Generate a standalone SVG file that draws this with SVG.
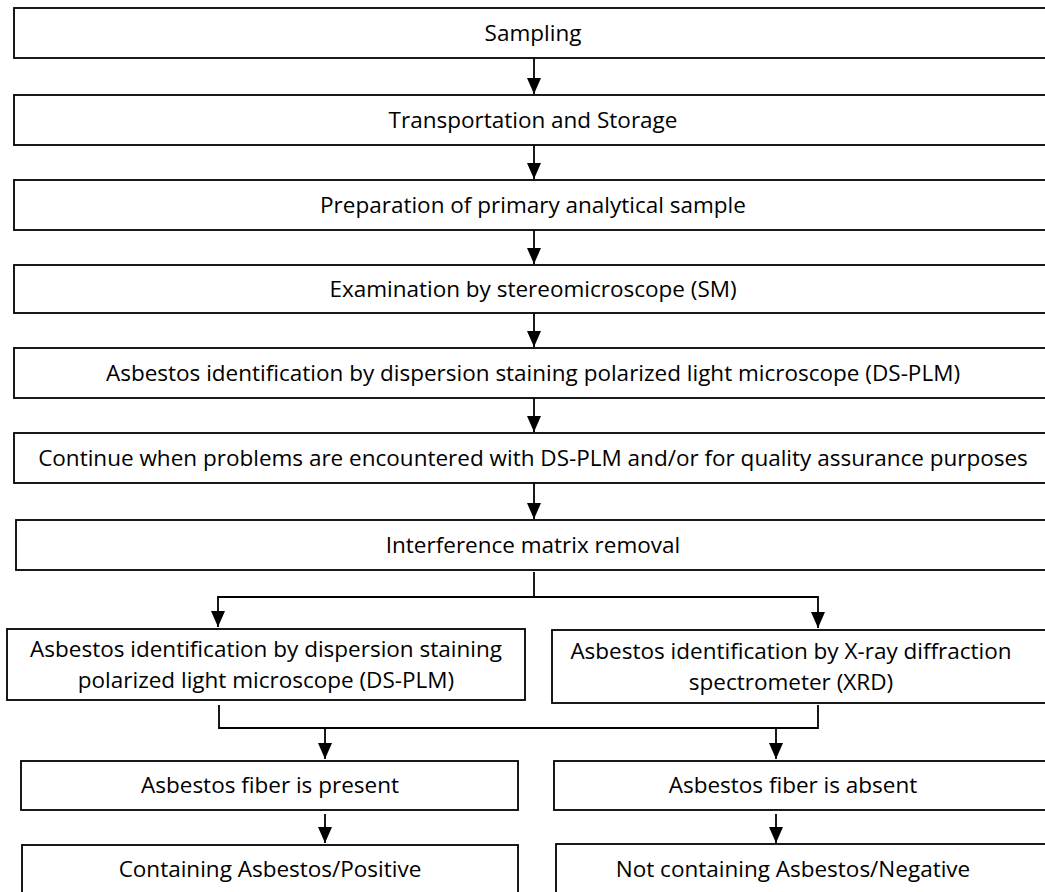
<svg xmlns="http://www.w3.org/2000/svg" width="1045" height="892" viewBox="0 0 1045 892">
<defs>
<marker id="ah" viewBox="0 0 16 14" refX="16" refY="7" markerWidth="16" markerHeight="14" markerUnits="userSpaceOnUse" orient="auto">
<path d="M0,0 L16,7 L0,14 Z" fill="#000"/>
</marker>
</defs>
<style>
rect{fill:#fff;stroke:#000;stroke-width:1.8}
text{font-family:"Open Sans","Noto Sans",sans-serif;font-size:22.5px;fill:#000;text-anchor:middle}
.c line,.c path{stroke:#000;stroke-width:1.8;fill:none}
.a{marker-end:url(#ah)}
</style>
<rect width="1045" height="892" style="fill:#fff;stroke:none"/>
<g class="c" id="connectors">
<line class="a" x1="534" y1="58" x2="534" y2="94"/>
<line class="a" x1="534" y1="145" x2="534" y2="179"/>
<line class="a" x1="534" y1="230" x2="534" y2="264"/>
<line class="a" x1="534" y1="313" x2="534" y2="347"/>
<line class="a" x1="534" y1="398" x2="534" y2="432"/>
<line class="a" x1="534" y1="483" x2="534" y2="519"/>
<line x1="534" y1="572" x2="534" y2="597"/>
<path class="a" d="M534,597 H218 V627"/>
<path class="a" d="M534,597 H818 V628"/>
<path d="M219,705 V728 H818 V705"/>
<line class="a" x1="325" y1="728" x2="325" y2="759"/>
<line class="a" x1="776" y1="728" x2="776" y2="759"/>
<line class="a" x1="325" y1="814" x2="325" y2="843"/>
<line class="a" x1="776" y1="814" x2="776" y2="843"/>
</g>
<g id="n1"><rect x="14" y="8" width="1040" height="50"/><text x="533" y="41">Sampling</text></g>
<g id="n2"><rect x="14" y="95" width="1040" height="50"/><text x="533" y="128">Transportation and Storage</text></g>
<g id="n3"><rect x="14" y="180" width="1040" height="50"/><text x="533" y="213">Preparation of primary analytical sample</text></g>
<g id="n4"><rect x="14" y="265" width="1040" height="48"/><text x="533" y="297">Examination by stereomicroscope (SM)</text></g>
<g id="n5"><rect x="14" y="348" width="1040" height="50"/><text x="533" y="381">Asbestos identification by dispersion staining polarized light microscope (DS-PLM)</text></g>
<g id="n6"><rect x="14" y="433" width="1040" height="50"/><text x="533" y="466">Continue when problems are encountered with DS-PLM and/or for quality assurance purposes</text></g>
<g id="n7"><rect x="16" y="520" width="1040" height="50"/><text x="533" y="553">Interference matrix removal</text></g>
<g id="n8"><rect x="7" y="629" width="518" height="71"/><text x="266" y="657">Asbestos identification by dispersion staining</text><text x="266" y="688">polarized light microscope (DS-PLM)</text></g>
<g id="n9"><rect x="552" y="630" width="500" height="73"/><text x="791" y="659">Asbestos identification by X-ray diffraction</text><text x="791" y="690">spectrometer (XRD)</text></g>
<g id="n10"><rect x="21" y="761" width="497" height="49"/><text x="270" y="793">Asbestos fiber is present</text></g>
<g id="n11"><rect x="554" y="761" width="500" height="49"/><text x="793" y="793">Asbestos fiber is absent</text></g>
<g id="n12"><rect x="22" y="845" width="496" height="60"/><text x="270" y="877">Containing Asbestos/Positive</text></g>
<g id="n13"><rect x="556" y="844" width="500" height="60"/><text x="793" y="877">Not containing Asbestos/Negative</text></g>
</svg>
